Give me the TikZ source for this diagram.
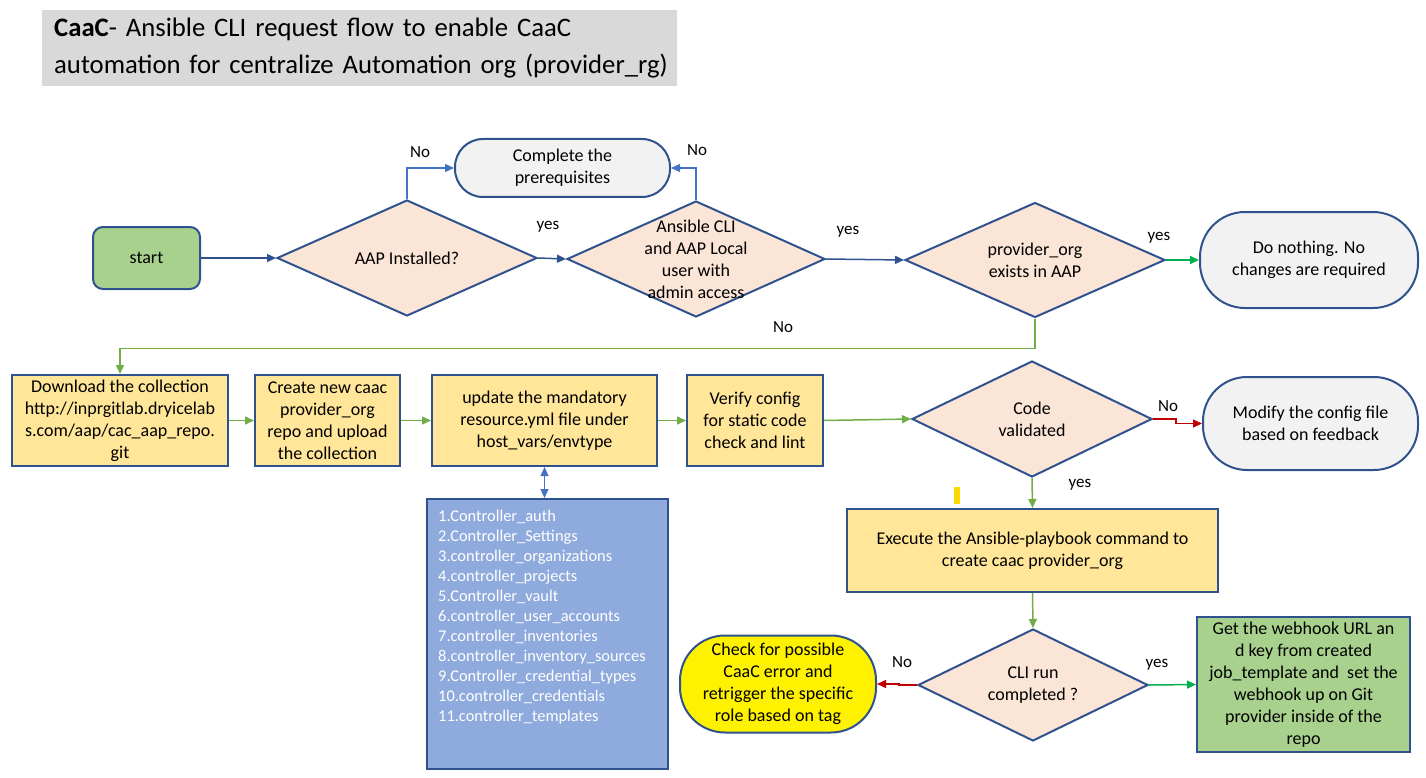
\documentclass[tikz,border=0pt]{standalone}
\usepackage{fontspec}
\setmainfont{Carlito}
\usetikzlibrary{shapes.geometric,arrows.meta}
\definecolor{bord}{HTML}{2F528F}
\definecolor{lblue}{HTML}{4472C4}
\definecolor{peach}{HTML}{FBE5D6}
\definecolor{ylw}{HTML}{FFE699}
\definecolor{grn}{HTML}{A9D18E}
\definecolor{stad}{HTML}{F2F2F2}
\definecolor{lstclr}{HTML}{8FAADC}
\definecolor{ttl}{HTML}{D9D9D9}
\definecolor{cgreen}{HTML}{70AD47}
\definecolor{bgreen}{HTML}{00B050}
\definecolor{cred}{HTML}{C00000}
\definecolor{markclr}{HTML}{FFD800}
\newcommand{\fsA}{\fontsize{18}{22}\selectfont}
\newcommand{\fsL}{\fontsize{17}{20}\selectfont}
\newcommand{\fsList}{\fontsize{16.4}{20}\selectfont}
\newcommand{\fsT}{\fontsize{26.7}{37}\selectfont}
\tikzset{
  box/.style={draw=bord, line width=2pt, fill=ylw, align=center, font=\fsA, inner sep=0pt},
  startbox/.style={draw=bord, line width=2pt, fill=grn, rounded corners=10pt, align=center, font=\fsA, inner sep=0pt},
  stadium/.style={draw=bord, line width=2pt, fill=stad, align=center, font=\fsA, inner sep=0pt},
  dia/.style={diamond, draw=bord, line width=2pt, fill=peach, inner sep=0pt},
  txt/.style={align=center, font=\fsA, inner sep=0pt},
  lbl/.style={font=\fsL, inner sep=0pt},
  conb/.style={draw=bord, line width=1.5pt, -{Triangle[length=9pt,width=8pt]}},
  conl/.style={draw=lblue, line width=1.2pt, -{Triangle[length=9pt,width=8pt]}},
  cong/.style={draw=cgreen, line width=1.5pt, -{Triangle[length=9pt,width=8pt]}},
  conbg/.style={draw=bgreen, line width=1.5pt, -{Triangle[length=9pt,width=8pt]}},
  conr/.style={draw=cred, line width=1.5pt, -{Triangle[length=9pt,width=8pt]}},
}
\begin{document}
\begin{tikzpicture}[x=1pt,y=-1pt]
\useasboundingbox (0,0) rectangle (1426,778);
% title
\node[fill=ttl, anchor=north west, text width=623pt, inner xsep=6pt, minimum height=76pt, align=left, font=\fsT] (title) at (42,10)
  {\hspace*{6pt}\textbf{CaaC}- Ansible CLI request flow to enable CaaC\\\hspace*{6pt}automation for centralize Automation org (provider\_rg)};
% row 1
\node[startbox, minimum width=107pt, minimum height=62pt] (start) at (146.5,258) {start};
\node[dia, minimum width=260pt, minimum height=116pt] (d1) at (407,258) {};
\node[txt] (d1t) at (d1) {AAP Installed?};
\node[stadium, rounded corners=28pt, minimum width=215pt, minimum height=58pt] (pre) at (562.5,168) {Complete the\\prerequisites};
\node[dia, minimum width=258pt, minimum height=116pt] (d2) at (696,259) {};
\node[txt] (d2t) at (d2) {Ansible CLI\\and AAP Local\\user with\\admin access};
\node[dia, minimum width=260pt, minimum height=115pt] (d3) at (1035,260) {};
\node[txt] (d3t) at (d3) {provider\_org\\exists in AAP};
\node[stadium, rounded corners=45pt, minimum width=218pt, minimum height=96pt] (none) at (1309,260) {Do nothing. No\\changes are required};
% row 2
\node[box, minimum width=216pt, minimum height=91pt] (b1) at (120,420.5) {Download the collection\\http://inprgitlab.dryicelab\\s.com/aap/cac\_aap\_repo.\\git};
\node[box, minimum width=145pt, minimum height=91pt] (b2) at (327.5,420.5) {Create new caac\\provider\_org\\repo and upload\\the collection};
\node[box, minimum width=225pt, minimum height=91pt] (b3) at (544.5,420.5) {update the mandatory\\resource.yml file under\\host\_vars/envtype};
\node[box, minimum width=136pt, minimum height=91pt] (b4) at (755,420.5) {Verify config\\for static code\\check and lint};
\node[dia, minimum width=240pt, minimum height=116pt] (d4) at (1032,419) {};
\node[txt] (d4t) at (d4) {Code\\validated};
\node[stadium, rounded corners=44pt, minimum width=215pt, minimum height=93pt] (mod) at (1310.5,423.5) {Modify the config file\\based on feedback};
% list
\node[draw=bord, line width=2pt, fill=lstclr, minimum width=241pt, minimum height=270pt, inner sep=0pt] (lst) at (547.5,634) {};
\node[anchor=north west, align=left, font=\fsList, text=white, inner sep=0pt] (lsttxt) at ([shift={(12,12)}]lst.north west)
  {1.Controller\_auth\\2.Controller\_Settings\\3.controller\_organizations\\4.controller\_projects\\5.Controller\_vault\\6.controller\_user\_accounts\\7.controller\_inventories\\8.controller\_inventory\_sources\\9.Controller\_credential\_types\\10.controller\_credentials\\11.controller\_templates};
% row 3
\node[box, minimum width=371pt, minimum height=83pt] (exec) at (1032.5,550.5) {Execute the Ansible-playbook command to\\create caac provider\_org};
\node[dia, minimum width=230pt, minimum height=112pt] (d5) at (1033,685) {};
\node[txt] (d5t) at (d5) {CLI run\\completed ?};
\node[draw=bord, line width=2pt, fill=yellow, rounded corners=45pt, minimum width=196pt, minimum height=97pt, align=center, font=\fsA, inner sep=0pt] (chk) at (778,684) {Check for possible\\CaaC error and\\retrigger the specific\\role based on tag};
\node[box, fill=grn, minimum width=213pt, minimum height=135pt] (gb) at (1303.5,684.5) {Get the webhook URL an\\d key from created\\job\_template and~ set the\\webhook up on Git\\provider inside of the\\repo};
% small mark
\fill[markclr] (954,487) rectangle (960,504);
% connectors
\draw[conb] (start) -- (d1.west);
\draw[conl] (d1.north) |- (pre.west);
\draw[conl] (d2.north) |- (pre.east);
\draw[conb] (d1.east) -- (d2.west);
\draw[conb] (d2.east) -- (d3.west);
\draw[conbg] (d3.east) -- (none.west);
\draw[cong] (d3.south) -- ++(0,30) -| (b1.north);
\draw[cong] (b1) -- (b2);
\draw[cong] (b2) -- (b3);
\draw[cong] (b3) -- (b4);
\draw[cong] (b4.east) -- (d4.west);
\draw[conr] (d4.east) -- ++(23,0) |- (mod.west);
\draw[draw=lblue, line width=1.2pt, {Triangle[length=9pt,width=8pt]}-{Triangle[length=9pt,width=8pt]}] (b3.south) -- (b3.south |- lst.north);
\draw[cong] (d4.south) -- (exec.north);
\draw[cong] (exec.south) -- (d5.north);
\draw[conr] (d5.west) -- ++(-18,0) |- (chk.east);
\draw[conbg] (d5.east) -- (gb.west);
% labels
\node[lbl] (l1) at (420,152) {No};
\node[lbl] (l2) at (697,150) {No};
\node[lbl] (l3) at (548,227) {yes};
\node[lbl] (l4) at (848,232) {yes};
\node[lbl] (l5) at (1159,238) {yes};
\node[lbl] (l6) at (783,327) {No};
\node[lbl] (l7) at (1168,406) {No};
\node[lbl] (l8) at (1080,485) {yes};
\node[lbl] (l9) at (902,662) {No};
\node[lbl] (l10) at (1157,665) {yes};
\end{tikzpicture}
\end{document}
